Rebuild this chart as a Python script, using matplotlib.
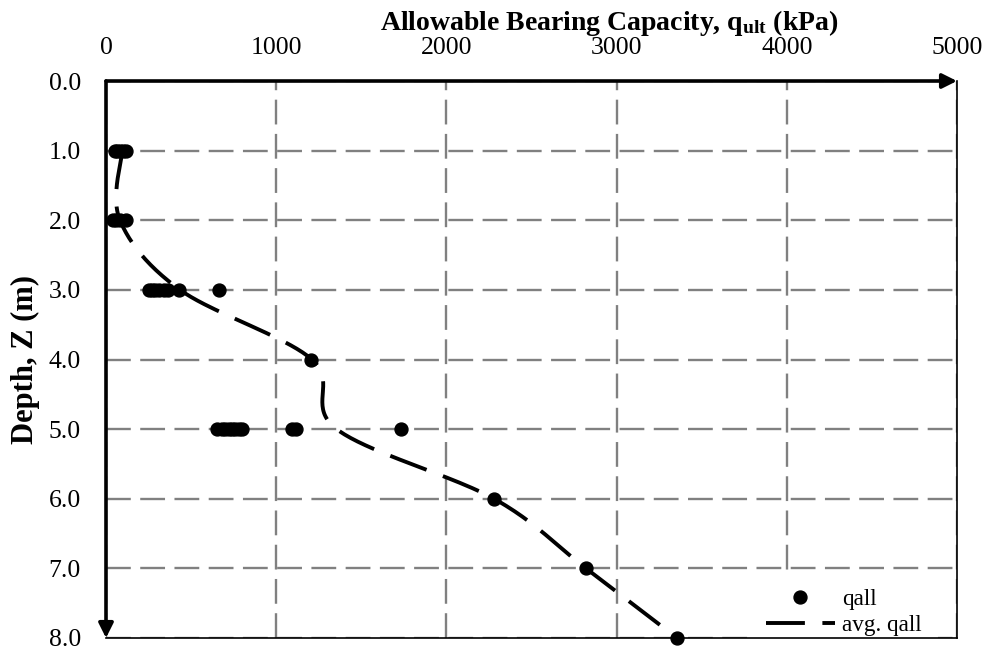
import numpy as np
import matplotlib
matplotlib.use("Agg")
import matplotlib.pyplot as plt
from matplotlib.patches import FancyArrowPatch
from matplotlib.lines import Line2D

plt.rcParams['font.family'] = ['Liberation Serif', 'DejaVu Serif']
plt.rcParams['mathtext.fontset'] = 'custom'
plt.rcParams['mathtext.rm'] = 'Liberation Serif'
plt.rcParams['mathtext.it'] = 'Liberation Serif:italic'
plt.rcParams['mathtext.bf'] = 'Liberation Serif:bold'

# ---- data ----
depth_1 = [1.0] * 5
qall_1 = [50, 65, 80, 100, 120]
depth_2 = [2.0] * 4
qall_2 = [40, 60, 85, 120]
depth_3 = [3.0] * 8
qall_3 = [255, 270, 290, 310, 340, 365, 430, 665]
depth_4 = [4.0]
qall_4 = [1205]
depth_5 = [5.0] * 11
qall_5 = [650, 680, 700, 720, 740, 760, 780, 797, 1095, 1115, 1735]
depth_6 = [6.0]
qall_6 = [2280]
depth_7 = [7.0]
qall_7 = [2820]
depth_8 = [8.0]
qall_8 = [3355]

avg_depth = [1, 2, 3, 4, 5, 6, 7, 8]
avg_qall = [95, 82, 435, 1210, 1355, 2280, 2820, 3355]

x_ticks = [0, 1000, 2000, 3000, 4000, 5000]
y_ticks = [0, 1, 2, 3, 4, 5, 6, 7, 8]

qall_x = qall_1 + qall_2 + qall_3 + qall_4 + qall_5 + qall_6 + qall_7 + qall_8
qall_y = depth_1 + depth_2 + depth_3 + depth_4 + depth_5 + depth_6 + depth_7 + depth_8


def excel_smooth(xs, ys, n=40):
    P = np.column_stack([xs, ys]).astype(float)
    Pe = np.vstack([P[0], P, P[-1]])
    out = []
    t = np.linspace(0, 1, n)[:, None]
    for i in range(len(P) - 1):
        p0 = P[i]
        p3 = P[i + 1]
        c1 = p0 + (Pe[i + 2] - Pe[i]) / 6.0
        c2 = p3 - (Pe[i + 3] - Pe[i + 1]) / 6.0
        seg = ((1 - t) ** 3) * p0 + 3 * ((1 - t) ** 2) * t * c1 + 3 * (1 - t) * t ** 2 * c2 + t ** 3 * p3
        out.append(seg if i == 0 else seg[1:])
    out = np.vstack(out)
    return out[:, 0], out[:, 1]


fig = plt.figure(figsize=(9.89, 6.51), dpi=100)
ax = fig.add_axes([106 / 989, 1 - 638 / 651, (957 - 106) / 989, (638 - 81) / 651])

ax.set_xlim(0, 5000)
ax.set_ylim(8, 0)
ax.set_xticks(x_ticks)
ax.set_yticks(y_ticks)
ax.set_yticklabels([f"{v:.1f}" for v in y_ticks])
ax.xaxis.tick_top()
ax.tick_params(axis='x', length=0, pad=16, labelsize=18.5)
ax.tick_params(axis='y', length=0, pad=18, labelsize=18.5)

ax.grid(True, color='#808080', linewidth=1.7, linestyle=(0, (10.5, 4)))

for s in ['top', 'left']:
    ax.spines[s].set_visible(False)
for s in ['right', 'bottom']:
    ax.spines[s].set_color('black')
    ax.spines[s].set_linewidth(1.2)

# Arrow axes (top: left->right, left: top->bottom)
ax.add_patch(FancyArrowPatch((0, 1), (1, 1), transform=ax.transAxes, arrowstyle='-|>',
                             mutation_scale=22, lw=2.6, color='black', clip_on=False,
                             shrinkA=0, shrinkB=0, zorder=5))
ax.add_patch(FancyArrowPatch((0, 1), (0, 0), transform=ax.transAxes, arrowstyle='-|>',
                             mutation_scale=22, lw=2.6, color='black', clip_on=False,
                             shrinkA=0, shrinkB=0, zorder=5))

sx, sy = excel_smooth(avg_qall, avg_depth)
ax.plot(sx, sy, color='black', linewidth=2.8, linestyle=(0, (10, 4.5)),
        zorder=3, clip_on=False)
ax.plot(qall_x, qall_y, 'o', color='black', markersize=9.3, zorder=4, clip_on=False)

ax.set_ylabel('Depth, Z (m)', fontsize=22, fontweight='bold', labelpad=6)
ax.text(0.6155, 1 - 30 / 651, r'Allowable Bearing Capacity, q$_{\mathbf{ult}}$ (kPa)',
        transform=fig.transFigure, ha='center', va='baseline',
        fontsize=20, fontweight='bold')

handles = [Line2D([], [], marker='o', color='black', linestyle='none', markersize=9.3),
           Line2D([], [], color='black', linewidth=2.8, linestyle=(0, (10, 4.5)))]
leg = ax.legend(handles, ['qall', 'avg. qall'], loc='upper left',
                bbox_to_anchor=(0.756, 0.117), borderaxespad=0, frameon=True,
                fontsize=16.7, handlelength=3.0, handletextpad=0.3, labelspacing=0.2,
                borderpad=0.7, facecolor='white', edgecolor='white', framealpha=1,
                fancybox=False)
leg.get_frame().set_linewidth(0)
leg.set_zorder(2.2)

fig.savefig('out.png', dpi=100)
